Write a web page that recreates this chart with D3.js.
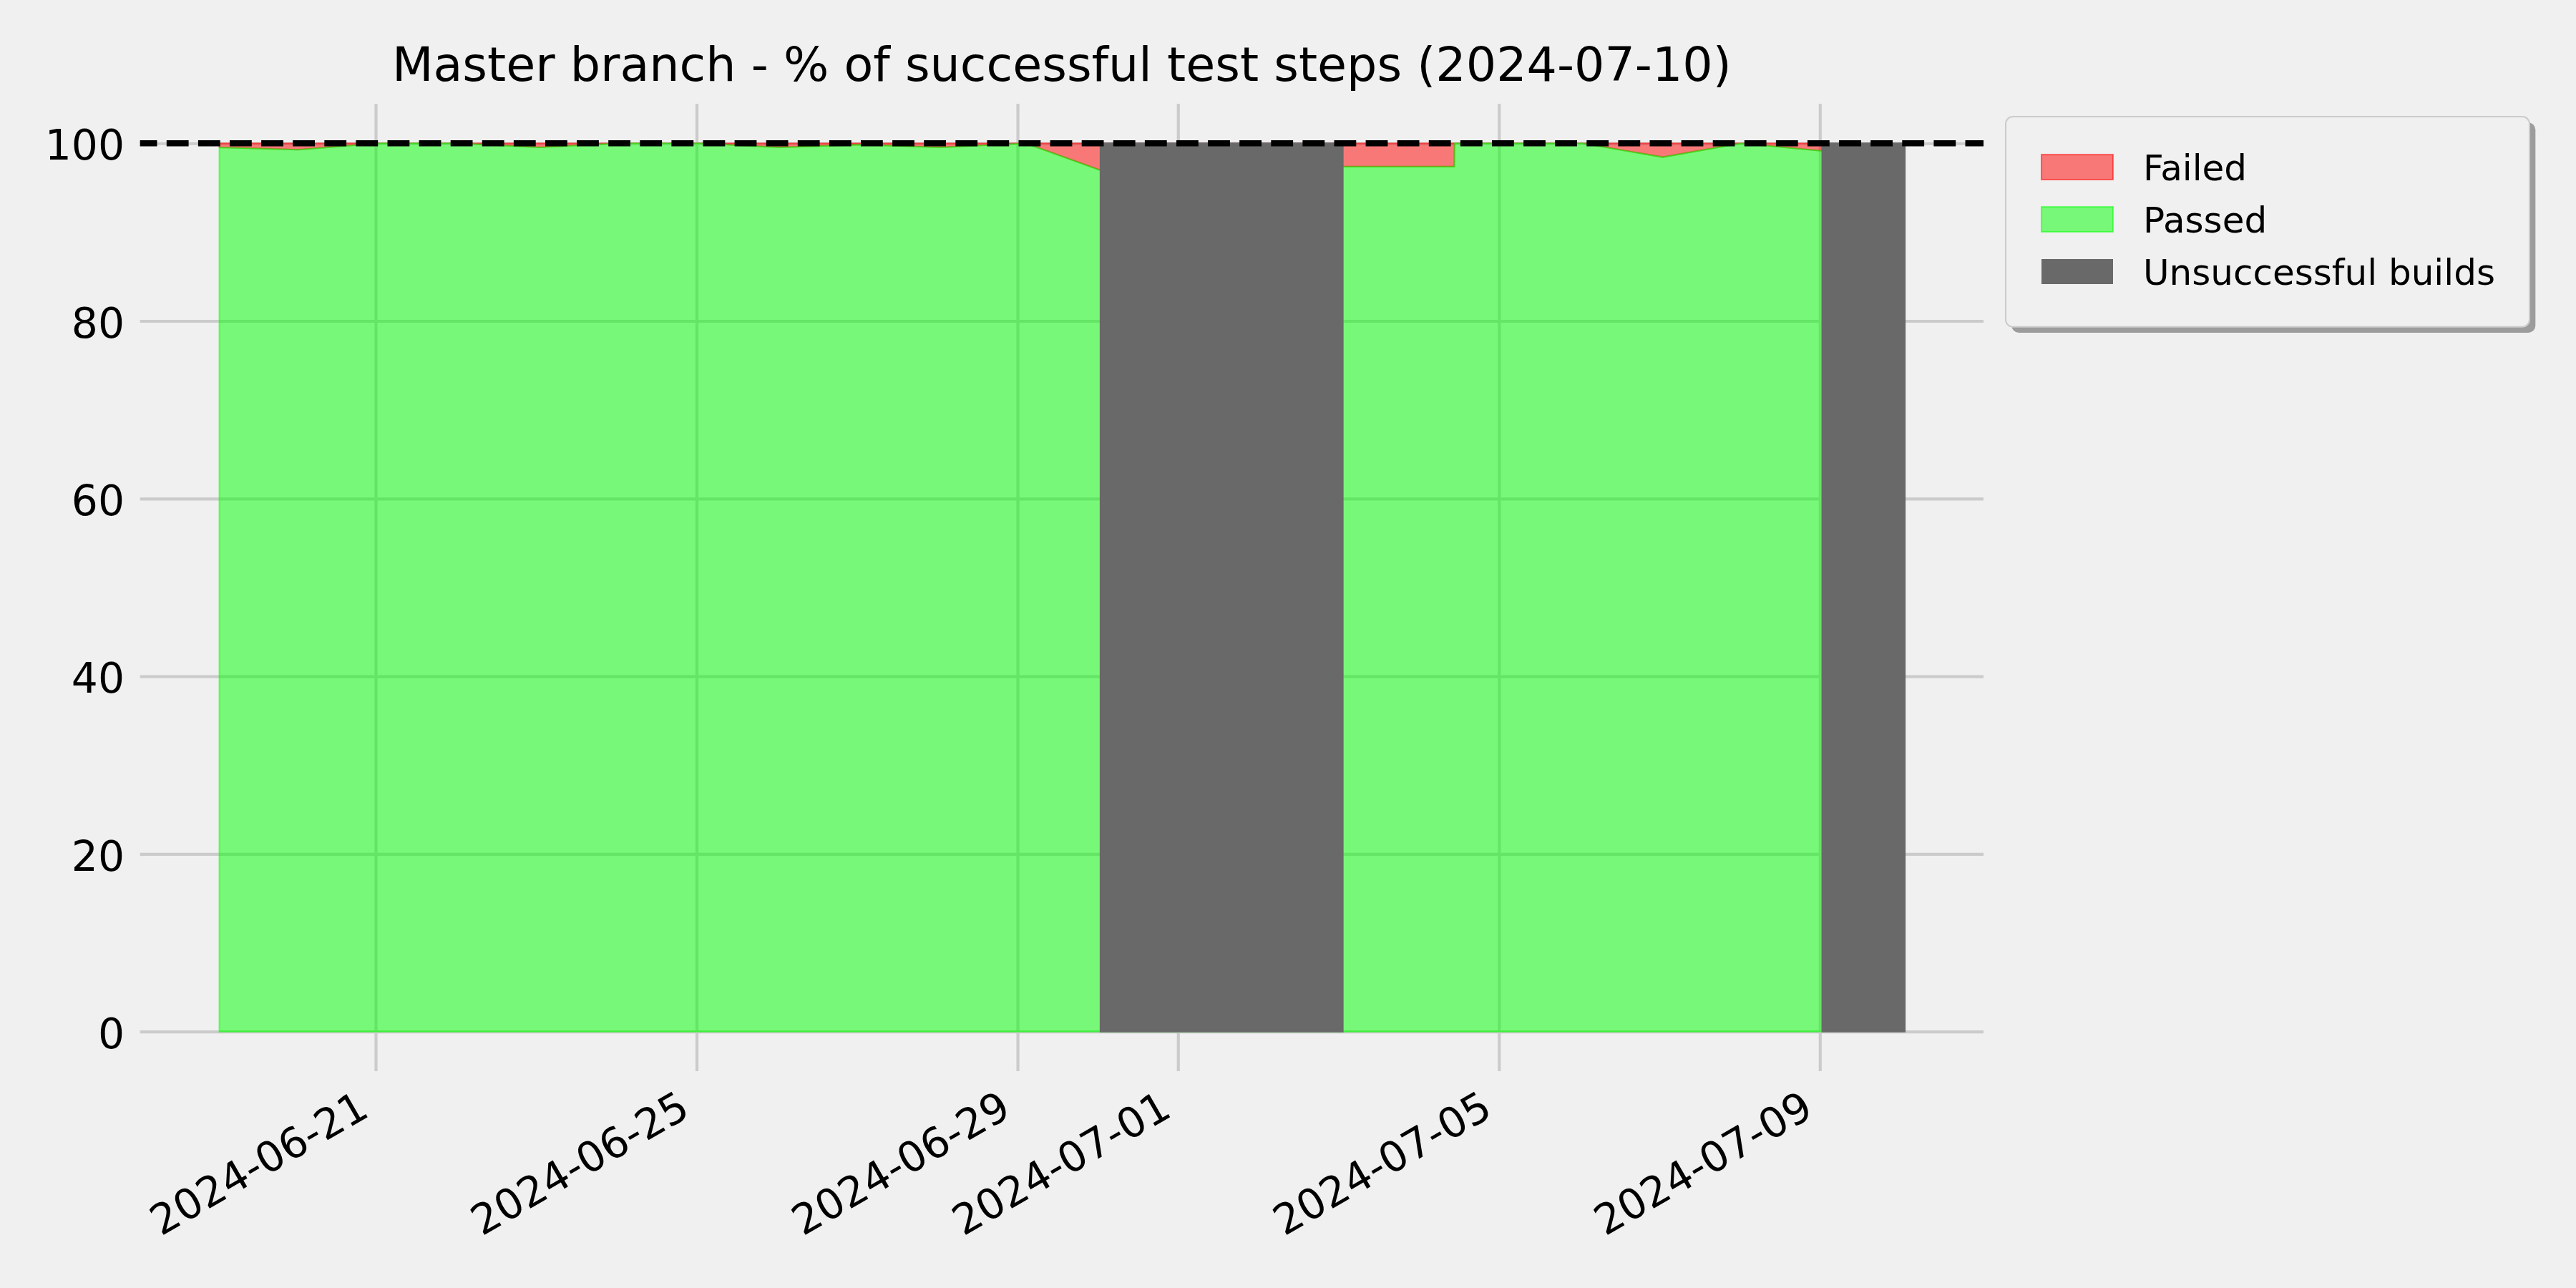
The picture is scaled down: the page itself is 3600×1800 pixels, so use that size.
<!DOCTYPE html>
<html>
<head>
<meta charset="utf-8">
<script src="https://cdn.jsdelivr.net/npm/d3@7"></script>
<style>
  html, body { margin: 0; padding: 0; background: #f0f0f0; }
  svg { display: block; font-family: "DejaVu Sans", sans-serif; }
</style>
</head>
<body>
<svg id="chart" width="3600" height="1800"></svg>
<script>
// ---------------- data ----------------
const buildTimes = [
  "2024-06-19T01:15", "2024-06-20T00:50", "2024-06-21T01:00", "2024-06-22T01:00",
  "2024-06-23T01:00", "2024-06-24T01:00", "2024-06-25T01:00", "2024-06-26T01:00",
  "2024-06-27T01:00", "2024-06-28T01:00", "2024-06-29T02:30", "2024-06-30T00:48",
  "2024-07-03T01:18", "2024-07-04T10:40", "2024-07-04T10:45", "2024-07-05T01:00",
  "2024-07-06T01:00", "2024-07-07T01:00", "2024-07-08T00:25", "2024-07-09T00:43"
];
const passedPct = [
  99.54, 99.27, 100, 100,
  99.54, 100, 100, 99.54,
  99.85, 99.54, 100, 96.96,
  97.37, 97.37, 100, 100,
  100, 98.44, 100, 99.14
];
const failedPct = [
  0.46, 0.73, 0, 0,
  0.46, 0, 0, 0.46,
  0.15, 0.46, 0, 3.04,
  2.63, 2.63, 0, 0,
  0, 1.56, 0, 0.86
];
const unsuccessfulStart = ["2024-06-30T00:48", "2024-07-09T00:43"];
const unsuccessfulEnd   = ["2024-07-03T01:18", "2024-07-10T01:25"];

const xTickDates = ["2024-06-21", "2024-06-25", "2024-06-29", "2024-07-01", "2024-07-05", "2024-07-09"];
const yTicks = [0, 20, 40, 60, 80, 100];
const referenceLine = 100;
const xDomain = ["2024-06-18T01:31", "2024-07-11T00:57"];
const yDomain = [-4.46, 104.45];
const titleText = "Master branch - % of successful test steps (2024-07-10)";
const legendLabels = ["Failed", "Passed", "Unsuccessful builds"];

// ---------------- layout ----------------
const W = 3600, H = 1800;
const plot = { left: 195.7, right: 2772, top: 145, bottom: 1497 };
const colors = {
  bg: "#f0f0f0", grid: "#cbcbcb",
  failed: "rgba(255,0,0,0.5)", passed: "rgba(0,255,0,0.5)", unsuccessful: "#696969"
};
const edgeW = 2.08;

const parseT = d3.timeParse("%Y-%m-%dT%H:%M");
const parseD = d3.timeParse("%Y-%m-%d");

const svg = d3.select("#chart");
svg.append("rect").attr("width", W).attr("height", H).attr("fill", colors.bg);

const x = d3.scaleTime().domain(xDomain.map(parseT)).range([plot.left, plot.right]);
const y = d3.scaleLinear().domain(yDomain).range([plot.bottom, plot.top]);

// ---------------- grid ----------------
const gy = svg.append("g").attr("transform", `translate(${plot.left},0)`)
  .call(d3.axisLeft(y).tickValues(yTicks).tickSize(-(plot.right - plot.left)).tickFormat(""));
gy.select(".domain").remove();
gy.selectAll("line").attr("stroke", colors.grid).attr("stroke-width", 4.17);

const gx = svg.append("g").attr("transform", `translate(0,${plot.bottom})`)
  .call(d3.axisBottom(x).tickValues(xTickDates.map(parseD)).tickSize(-(plot.bottom - plot.top)).tickFormat(""));
gx.select(".domain").remove();
gx.selectAll("line").attr("stroke", colors.grid).attr("stroke-width", 4.17);

// ---------------- areas ----------------
const rows = buildTimes.map((t, i) => ({ t: parseT(t), passed: passedPct[i], failed: failedPct[i] }));

const failedArea = d3.area()
  .x(d => x(d.t))
  .y0(d => y(d.passed))
  .y1(d => y(d.passed + d.failed));
const passedArea = d3.area()
  .x(d => x(d.t))
  .y0(() => y(0))
  .y1(d => y(d.passed));

svg.append("path").datum(rows).attr("d", failedArea)
  .attr("fill", colors.failed).attr("stroke", colors.failed)
  .attr("stroke-width", edgeW).attr("stroke-linejoin", "miter");
svg.append("path").datum(rows).attr("d", passedArea)
  .attr("fill", colors.passed).attr("stroke", colors.passed)
  .attr("stroke-width", edgeW).attr("stroke-linejoin", "miter");

// ---------------- unsuccessful builds ----------------
const spans = unsuccessfulStart.map((s, i) => ({ s: parseT(s), e: parseT(unsuccessfulEnd[i]) }));
svg.append("g").selectAll("rect").data(spans).join("rect")
  .attr("x", d => x(d.s))
  .attr("width", d => x(d.e) - x(d.s))
  .attr("y", y(100))
  .attr("height", y(0) - y(100))
  .attr("fill", colors.unsuccessful)
  .attr("stroke", colors.unsuccessful)
  .attr("stroke-width", edgeW);

// ---------------- reference dashed line ----------------
svg.append("line")
  .attr("x1", plot.left).attr("x2", plot.right)
  .attr("y1", y(referenceLine)).attr("y2", y(referenceLine))
  .attr("stroke", "#000").attr("stroke-width", 8.33)
  .attr("stroke-dasharray", "30.8 13.3").attr("stroke-dashoffset", 7)
  .attr("stroke-linecap", "butt");

// ---------------- tick labels ----------------
const ly = svg.append("g").attr("transform", `translate(${plot.left},0)`)
  .call(d3.axisLeft(y).tickValues(yTicks).tickSize(0).tickPadding(21.7).tickFormat(d3.format("d")));
ly.select(".domain").remove();
ly.selectAll("text").attr("font-size", 58.33).attr("fill", "#000")
  .attr("font-family", "DejaVu Sans").attr("dy", "0.39em");

const lx = svg.append("g").attr("transform", `translate(0,${plot.bottom})`)
  .call(d3.axisBottom(x).tickValues(xTickDates.map(parseD)).tickSize(0).tickFormat(d3.timeFormat("%Y-%m-%d")));
lx.select(".domain").remove();
lx.selectAll("text")
  .attr("font-size", 58.33).attr("fill", "#000").attr("font-family", "DejaVu Sans")
  .attr("text-anchor", "end")
  .attr("x", 0).attr("y", 0).attr("dy", null)
  .attr("transform", "translate(-7,61.5) rotate(-30)");

// ---------------- title ----------------
svg.append("text")
  .attr("x", (plot.left + plot.right) / 2).attr("y", 113.3)
  .attr("text-anchor", "middle").attr("font-size", 66.67).attr("fill", "#000")
  .text(titleText);

// ---------------- legend ----------------
const leg = { x: 2803, y: 163, w: 732, h: 293.7, r: 10 };
svg.append("rect").attr("x", leg.x + 8.3).attr("y", leg.y + 8.3)
  .attr("width", leg.w).attr("height", leg.h).attr("rx", leg.r)
  .attr("fill", "#9c9c9c");
svg.append("rect").attr("x", leg.x).attr("y", leg.y)
  .attr("width", leg.w).attr("height", leg.h).attr("rx", leg.r)
  .attr("fill", colors.bg).attr("stroke", "#cccccc").attr("stroke-width", edgeW);

const legendFills = [colors.failed, colors.passed, colors.unsuccessful];
const legendStrokes = [colors.failed, colors.passed, "none"];
const rowH = 73;
const lg = svg.append("g").attr("transform", `translate(${leg.x},${leg.y})`);
const items = lg.selectAll("g").data(legendLabels).join("g")
  .attr("transform", (d, i) => `translate(0,${70.5 + i * rowH})`);
items.append("rect")
  .attr("x", 50).attr("y", -17.5).attr("width", 100).attr("height", 35)
  .attr("fill", (d, i) => legendFills[i])
  .attr("stroke", (d, i) => legendStrokes[i])
  .attr("stroke-width", edgeW);
items.append("text")
  .attr("x", 192).attr("y", 18.2)
  .attr("font-size", 50).attr("fill", "#000")
  .text(d => d);
</script>
</body>
</html>
